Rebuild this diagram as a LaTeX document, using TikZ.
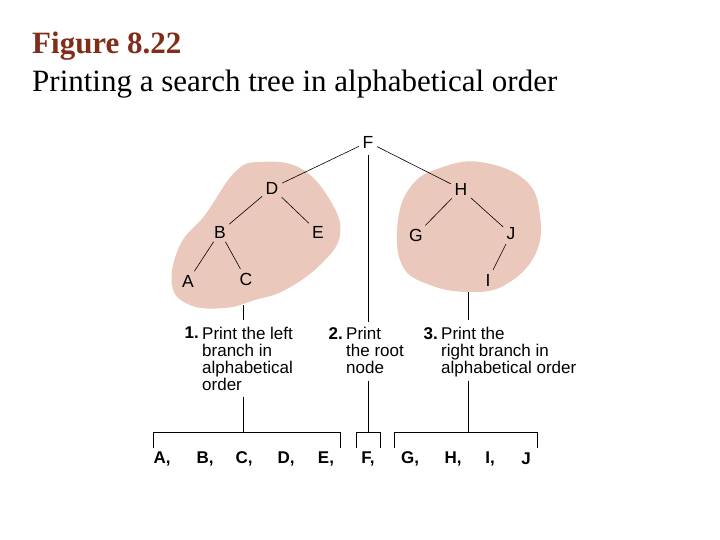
\documentclass[tikz,border=0pt]{standalone}
\usepackage{fontspec}
\setmainfont{Liberation Serif}
\setsansfont{Liberation Sans}
\usetikzlibrary{positioning}
\definecolor{blob}{RGB}{234,200,188}
\definecolor{titlered}{RGB}{130,45,25}
\tikzset{key/.style={font=\sffamily\fontsize{17.5}{18}\selectfont,inner sep=1pt}}
\tikzset{edge/.style={draw,line width=0.6pt,shorten <=3pt,shorten >=3pt}}
\tikzset{step1/.style={font=\sffamily\fontsize{17}{17}\selectfont,align=left,anchor=north west,inner sep=0pt}}
\tikzset{num/.style={step1,font=\sffamily\bfseries\fontsize{17}{17}\selectfont,anchor=north east,inner xsep=3pt}}
\tikzset{out1/.style={font=\sffamily\bfseries\fontsize{17}{18}\selectfont,inner sep=1pt}}
\begin{document}
\begin{tikzpicture}[x=1pt,y=-1pt]
    \useasboundingbox (0,0) rectangle (720,540);
    \node[anchor=west,text=titlered,font=\bfseries\fontsize{31}{33}\selectfont,inner sep=0pt] (title) at (32,46) {Figure 8.22};
    \node[anchor=west,font=\fontsize{31}{33}\selectfont,inner sep=0pt] (sub) at (32,84) {Printing a search tree in alphabetical order};

    % shaded branches
    \fill[blob] plot[smooth cycle,tension=0.7] coordinates {(260,162) (300,168) (330,200) (340,235) (320,265) (285,290) (255,300) (225,308) (190,305) (172,285) (180,245) (205,215) (235,172)};
    \fill[blob] plot[smooth cycle,tension=0.7] coordinates {(440,168) (480,162) (525,180) (540,215) (535,255) (505,285) (470,292) (430,285) (402,265) (398,220) (412,185)};

    \node[key] (f) at (368,142) {F};
    \node[key] (d) at (272,188) {D};
    \node[key] (h) at (461,189) {H};
    \node[key] (b) at (220,232) {B};
    \node[key] (e) at (318,232) {E};
    \node[key] (g) at (416,235) {G};
    \node[key] (j) at (511,234) {J};
    \node[key] (a) at (188,281) {A};
    \node[key] (c) at (246,279) {C};
    \node[key] (i) at (488,280) {I};

    \path[edge] (f) -- (d);
    \path[edge] (f) -- (h);
    \path[edge] (d) -- (b);
    \path[edge] (d) -- (e);
    \path[edge] (b) -- (a);
    \path[edge] (b) -- (c);
    \path[edge] (h) -- (g);
    \path[edge] (h) -- (j);
    \path[edge] (j) -- (i);

    % steps
    \node[step1] (s1) at (202,327) {Print the left\\branch in\\alphabetical\\order};
    \node[num] (n1) at (s1.north west) {1.};
    \node[step1] (s2) at (346,327) {Print\\the root\\node};
    \node[num] (n2) at (s2.north west) {2.};
    \node[step1] (s3) at (441,327) {Print the\\right branch in\\alphabetical order};
    \node[num] (n3) at (s3.north west) {3.};

    \coordinate (t1) at (243,305);
    \coordinate (u1) at (243,320);
    \coordinate (v1) at (243,397);
    \coordinate (w1) at (243,432);
    \coordinate (t3) at (468,292);
    \coordinate (u3) at (468,320);
    \coordinate (v3) at (468,381);
    \coordinate (w3) at (468,432);
    \coordinate (v2) at (368,381);
    \coordinate (w2) at (368,432);
    \coordinate (u2) at (368,322);
    \coordinate (r2) at (368,155);
    \draw (t1) -- (u1);
    \draw (v1) -- (w1);
    \draw (t3) -- (u3);
    \draw (v3) -- (w3);
    \draw (r2) -- (u2);
    \draw (v2) -- (w2);

    % brackets
    \draw (153,448) -- (153,432) -- (340,432) -- (340,448);
    \draw (356,448) -- (356,432) -- (380,432) -- (380,448);
    \draw (394,448) -- (394,432) -- (537,432) -- (537,448);

    \node[out1] (oa) at (162,459) {A,};
    \node[out1] (ob) at (205,459) {B,};
    \node[out1] (oc) at (244,459) {C,};
    \node[out1] (od) at (286,459) {D,};
    \node[out1] (oe) at (326,459) {E,};
    \node[out1] (of) at (368,459) {F,};
    \node[out1] (og) at (410,459) {G,};
    \node[out1] (oh) at (453,459) {H,};
    \node[out1] (oi) at (490,459) {I,};
    \node[out1] (oj) at (526,459) {J};
\end{tikzpicture}
\end{document}
